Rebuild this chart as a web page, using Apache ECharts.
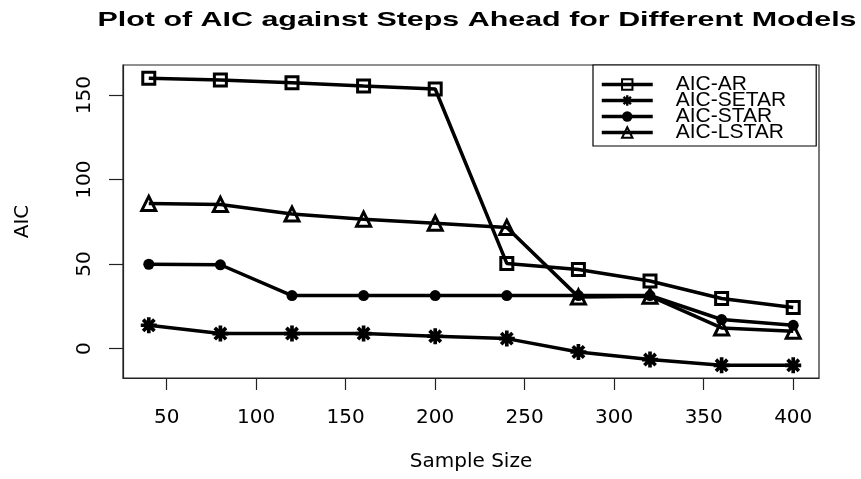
<!DOCTYPE html>
<html>
<head>
<meta charset="utf-8">
<script src="https://cdn.jsdelivr.net/npm/echarts@6/dist/echarts.min.js"></script>
<style>html,body{margin:0;padding:0;background:#fff}#c{width:861px;height:479px}</style>
</head>
<body>
<div id="c"></div>
<script>
// ---- data ----
var sampleSize = [40, 80, 120, 160, 200, 240, 280, 320, 360, 400];
var aicAR    = [160.0, 158.9, 157.3, 155.4, 153.6, 50.4, 46.8, 40.0, 29.6, 24.3];
var aicSETAR = [13.8, 8.9, 8.9, 8.9, 7.3, 5.9, -2.0, -6.5, -9.9, -9.9];
var aicSTAR  = [49.9, 49.6, 31.4, 31.4, 31.4, 31.4, 31.4, 31.4, 17.2, 13.8];
var aicLSTAR = [85.9, 85.3, 79.6, 76.6, 74.2, 71.7, 30.6, 31.0, 12.2, 10.2];
var seriesNames = ['AIC-AR', 'AIC-SETAR', 'AIC-STAR', 'AIC-LSTAR'];
var xTicks = [50, 100, 150, 200, 250, 300, 350, 400];
var yTicks = [0, 50, 100, 150];
var titleText = 'Plot of AIC against Steps Ahead for Different Models';

function pairs(ys) { return sampleSize.map(function (x, i) { return [x, ys[i]]; }); }

// asterisk symbol path (8 arms)
function asteriskPath() {
  var R = 48, h = 11, c = 50, pts = [];
  var rin = h / Math.sin(Math.PI / 8);
  for (var k = 0; k < 8; k++) {
    var t = k * Math.PI / 4, ux = Math.cos(t), uy = Math.sin(t), px = -uy, py = ux;
    pts.push([c + R * ux - h * px, c + R * uy - h * py]);
    pts.push([c + R * ux + h * px, c + R * uy + h * py]);
    var ti = t + Math.PI / 8;
    pts.push([c + rin * Math.cos(ti), c + rin * Math.sin(ti)]);
  }
  return 'path://M' + pts.map(function (p) { return p[0].toFixed(2) + ',' + p[1].toFixed(2); }).join('L') + 'Z';
}

var font = 'DejaVu Sans';
var lineW = 3.5;
var chart = echarts.init(document.getElementById('c'), null, { renderer: 'canvas' });

function mkSeries(name, ys, symbol, size, fill) {
  return {
    name: name, type: 'line', data: pairs(ys),
    symbol: symbol, symbolSize: size, symbolKeepAspect: true,
    showSymbol: true, animation: false,
    lineStyle: { color: '#000', width: lineW },
    itemStyle: { color: fill, borderColor: '#000', borderWidth: fill === '#000' ? 0 : 3 },
    emphasis: { disabled: true }
  };
}

// measure title to stretch it like the reference
var titleFont = 'bold 21px "Liberation Sans"';
var cv = document.createElement('canvas').getContext('2d');
cv.font = titleFont;
var tw = cv.measureText(titleText).width;
var titleScale = 759 / tw;

chart.setOption({
  backgroundColor: '#fff',
  animation: false,
  graphic: [{
    type: 'text',
    x: 477, y: 20,
    scaleX: titleScale,
    style: { x: 0, y: 0, text: titleText, font: titleFont, fill: '#000', textAlign: 'center', textVerticalAlign: 'middle' }
  }],
  grid: { left: 123, right: 42, top: 65, bottom: 101, show: true, borderColor: '#222', borderWidth: 1.2, containLabel: false },
  xAxis: {
    type: 'value', min: 25.6, max: 414.4,
    name: 'Sample Size', nameLocation: 'middle', nameGap: 74,
    nameTextStyle: { fontFamily: font, fontSize: 20, color: '#000' },
    axisLine: { show: true, onZero: false, lineStyle: { color: '#222', width: 1.2 } },
    axisTick: { show: true, length: 12, inside: false, customValues: xTicks, lineStyle: { color: '#222', width: 1.2 } },
    axisLabel: { customValues: xTicks, margin: 30, fontFamily: font, fontSize: 20, color: '#000' },
    splitLine: { show: false }
  },
  yAxis: {
    type: 'value', min: -17.4, max: 167.8,
    name: 'AIC', nameLocation: 'middle', nameGap: 90, nameRotate: 90,
    nameTextStyle: { fontFamily: font, fontSize: 20, color: '#000' },
    axisLine: { show: true, onZero: false, lineStyle: { color: '#222', width: 1.2 } },
    axisTick: { show: true, length: 14, inside: false, customValues: yTicks, lineStyle: { color: '#222', width: 1.2 } },
    axisLabel: { customValues: yTicks, rotate: 90, margin: 28, fontFamily: font, fontSize: 20, color: '#000' },
    splitLine: { show: false }
  },
  legend: {
    orient: 'vertical', left: 593, top: 65,
    padding: [9, 30, 3, 7],
    borderColor: '#000', borderWidth: 1.2, backgroundColor: '#fff',
    itemWidth: 51, itemHeight: 13, itemGap: -5,
    lineStyle: { color: '#000', width: lineW },
    textStyle: { fontFamily: 'Liberation Sans', fontSize: 21, color: '#000', padding: [0, 0, 0, 18] },
    data: seriesNames,
    selectedMode: false
  },
  series: [
    mkSeries(seriesNames[0], aicAR, 'rect', 12, 'rgba(0,0,0,0)'),
    mkSeries(seriesNames[1], aicSETAR, asteriskPath(), 16, '#000'),
    mkSeries(seriesNames[2], aicSTAR, 'circle', 11, '#000'),
    mkSeries(seriesNames[3], aicLSTAR, 'triangle', 14, 'rgba(0,0,0,0)')
  ]
});
</script>
</body>
</html>
